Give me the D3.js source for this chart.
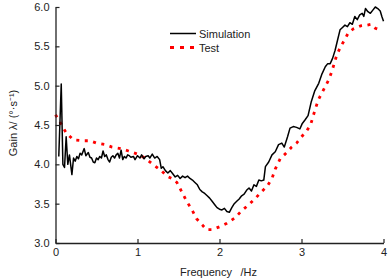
<!DOCTYPE html>
<html>
<head>
<meta charset="utf-8">
<script src="https://cdn.jsdelivr.net/npm/d3@7"></script>
<style>
  html, body { margin: 0; padding: 0; background: #fff; overflow: hidden; }
  svg { display: block; }
  text { font-family: "Liberation Sans", Arial, sans-serif; }
</style>
</head>
<body>
<div id="chart"></div>
<script>
// Gain vs frequency: simulation and test
const yTicks = [3.0, 3.5, 4.0, 4.5, 5.0, 5.5, 6.0];
const xTicks = [0, 1, 2, 3, 4];

const simFreq = [0.04, 0.07, 0.09, 0.11, 0.13, 0.15, 0.17, 0.20, 0.22, 0.24, 0.26, 0.28, 0.30, 0.32, 0.35, 0.37, 0.40, 0.42, 0.44, 0.46,
  0.48, 0.50, 0.52, 0.54, 0.56, 0.58, 0.60, 0.62, 0.64, 0.66, 0.68, 0.70, 0.72, 0.74, 0.76, 0.78, 0.80, 0.82, 0.84, 0.86,
  0.88, 0.90, 0.92, 0.95, 0.97, 1.00, 1.03, 1.05, 1.08, 1.10, 1.13, 1.15, 1.18, 1.21, 1.24, 1.27, 1.29, 1.31, 1.34, 1.37,
  1.40, 1.43, 1.46, 1.49, 1.52, 1.55, 1.58, 1.61, 1.64, 1.67, 1.70, 1.73, 1.76, 1.79, 1.82, 1.85, 1.88, 1.91, 1.94, 1.97,
  2.00, 2.03, 2.06, 2.09, 2.12, 2.15, 2.18, 2.21, 2.24, 2.27, 2.30, 2.33, 2.36, 2.39, 2.42, 2.45, 2.48, 2.51, 2.54, 2.56,
  2.60, 2.64, 2.68, 2.72, 2.76, 2.79, 2.83, 2.86, 2.90, 2.94, 2.98, 3.01, 3.04, 3.08, 3.12, 3.16, 3.21, 3.25, 3.29, 3.32,
  3.35, 3.38, 3.41, 3.44, 3.47, 3.50, 3.53, 3.56, 3.59, 3.62, 3.65, 3.68, 3.71, 3.74, 3.76, 3.78, 3.81, 3.84, 3.87, 3.90,
  3.93, 3.96, 3.98, 4.00];
const simGain = [4.10, 5.02, 4.00, 3.96, 4.35, 4.00, 4.12, 3.87, 4.08, 4.04, 4.10, 4.07, 4.14, 4.12, 4.20, 4.11, 4.15, 4.09, 4.08, 4.03,
  4.02, 4.08, 4.06, 4.10, 4.08, 4.17, 4.10, 4.12, 4.06, 4.03, 4.09, 4.11, 4.08, 4.12, 4.14, 4.08, 4.18, 4.06, 4.10, 4.08,
  4.12, 4.11, 4.09, 4.10, 4.06, 4.11, 4.08, 4.12, 4.07, 4.10, 4.11, 4.08, 4.13, 4.08, 4.10, 4.06, 3.95, 3.97, 3.92, 3.89,
  3.92, 3.88, 3.84, 3.86, 3.82, 3.85, 3.83, 3.85, 3.82, 3.80, 3.77, 3.74, 3.68, 3.65, 3.63, 3.60, 3.57, 3.53, 3.49, 3.45,
  3.43, 3.42, 3.44, 3.40, 3.39, 3.45, 3.50, 3.53, 3.56, 3.60, 3.62, 3.67, 3.70, 3.66, 3.74, 3.72, 3.80, 3.79, 3.80, 3.97,
  4.03, 4.12, 4.16, 4.25, 4.27, 4.22, 4.35, 4.46, 4.48, 4.47, 4.45, 4.52, 4.56, 4.62, 4.80, 4.93, 5.03, 5.15, 5.24, 5.28,
  5.28, 5.35, 5.45, 5.58, 5.71, 5.74, 5.77, 5.75, 5.80, 5.78, 5.88, 5.84, 5.90, 5.92, 5.88, 5.98, 5.94, 5.92, 5.96, 6.00,
  5.98, 5.95, 5.88, 5.82];

const testFreq = [0.00, 0.07, 0.13, 0.22, 0.33, 0.42, 0.50, 0.61, 0.69, 0.80, 0.89, 1.00, 1.09, 1.20, 1.29, 1.36, 1.42, 1.48, 1.52, 1.56,
  1.60, 1.66, 1.72, 1.79, 1.84, 1.91, 2.01, 2.09, 2.19, 2.27, 2.35, 2.44, 2.52, 2.58, 2.64, 2.68, 2.74, 2.82, 2.88, 2.94,
  3.00, 3.06, 3.11, 3.17, 3.21, 3.27, 3.33, 3.37, 3.43, 3.48, 3.53, 3.57, 3.63, 3.72, 3.80, 3.85, 3.90, 3.98];
const testGain = [4.63, 4.51, 4.40, 4.31, 4.30, 4.30, 4.27, 4.25, 4.22, 4.20, 4.17, 4.13, 4.08, 3.99, 3.92, 3.85, 3.82, 3.77, 3.69, 3.61,
  3.53, 3.43, 3.31, 3.23, 3.17, 3.17, 3.21, 3.25, 3.32, 3.41, 3.48, 3.57, 3.66, 3.72, 3.82, 3.94, 4.07, 4.15, 4.22, 4.27,
  4.35, 4.42, 4.50, 4.71, 4.83, 4.95, 5.07, 5.18, 5.39, 5.50, 5.59, 5.67, 5.72, 5.76, 5.77, 5.78, 5.73, 5.70];

const width = 388, height = 280;
const margin = { top: 7, right: 4.5, bottom: 37, left: 55.5 };
const innerWidth = width - margin.left - margin.right;
const innerHeight = height - margin.top - margin.bottom;

const svg = d3.select('#chart').append('svg')
    .attr('width', width)
    .attr('height', height);

const g = svg.append('g')
    .attr('transform', `translate(${margin.left},${margin.top})`);

const x = d3.scaleLinear().domain([0, 4]).range([0, innerWidth]);
const y = d3.scaleLinear().domain([3, 6]).range([innerHeight, 0]);

const simData = simFreq.map((f, i) => ({ f: f, v: simGain[i] }));
const testData = testFreq.map((f, i) => ({ f: f, v: testGain[i] }));

const line = d3.line()
    .x(d => x(d.f))
    .y(d => y(d.v));

// curves
g.append('path')
    .datum(testData)
    .attr('fill', 'none')
    .attr('stroke', '#ff0000')
    .attr('stroke-width', 2.8)
    .attr('stroke-dasharray', '3,5.5')
    .attr('d', line);

g.append('path')
    .datum(simData)
    .attr('fill', 'none')
    .attr('stroke', '#000')
    .attr('stroke-width', 1.5)
    .attr('stroke-linejoin', 'round')
    .attr('d', line);

// axes, ticks pointing inward
const xAxis = g.append('g')
    .attr('transform', `translate(0,${innerHeight})`)
    .call(d3.axisBottom(x).tickValues(xTicks).tickFormat(d3.format('d'))
        .tickSizeInner(-4).tickSizeOuter(0).tickPadding(5));

const yAxis = g.append('g')
    .call(d3.axisLeft(y).tickValues(yTicks).tickFormat(d3.format('.1f'))
        .tickSizeInner(-4).tickSizeOuter(0).tickPadding(6));

[xAxis, yAxis].forEach(ax => {
    ax.select('.domain').attr('stroke', '#222').attr('stroke-width', 1.3);
    ax.selectAll('.tick line').attr('stroke', '#222').attr('stroke-width', 1.2);
    ax.selectAll('.tick text')
        .style('font-family', '"Liberation Sans", Arial, sans-serif')
        .style('font-size', '11px')
        .attr('fill', '#222');
});

// axis titles
svg.append('text')
    .attr('x', 180)
    .attr('y', 276)
    .style('font-size', '11px')
    .attr('fill', '#222')
    .text('Frequency');

svg.append('text')
    .attr('x', 240.5)
    .attr('y', 276)
    .style('font-size', '11px')
    .attr('fill', '#222')
    .text('/Hz');

svg.append('text')
    .attr('transform', 'rotate(-90)')
    .attr('x', -123)
    .attr('y', 17)
    .attr('text-anchor', 'middle')
    .style('font-size', '11px')
    .attr('fill', '#222')
    .text('Gain λ/ (°·s⁻¹)');

// legend
const legend = svg.append('g');
legend.append('line')
    .attr('x1', 170).attr('x2', 196)
    .attr('y1', 33.5).attr('y2', 33.5)
    .attr('stroke', '#000')
    .attr('stroke-width', 1.5);
legend.append('line')
    .attr('x1', 170).attr('x2', 196)
    .attr('y1', 47.5).attr('y2', 47.5)
    .attr('stroke', '#ff0000')
    .attr('stroke-width', 2.8)
    .attr('stroke-dasharray', '4,6');
legend.append('text')
    .attr('x', 199).attr('y', 37.5)
    .style('font-size', '11px')
    .attr('fill', '#222')
    .text('Simulation');
legend.append('text')
    .attr('x', 199).attr('y', 51.5)
    .style('font-size', '11px')
    .attr('fill', '#222')
    .text('Test');
</script>
</body>
</html>
